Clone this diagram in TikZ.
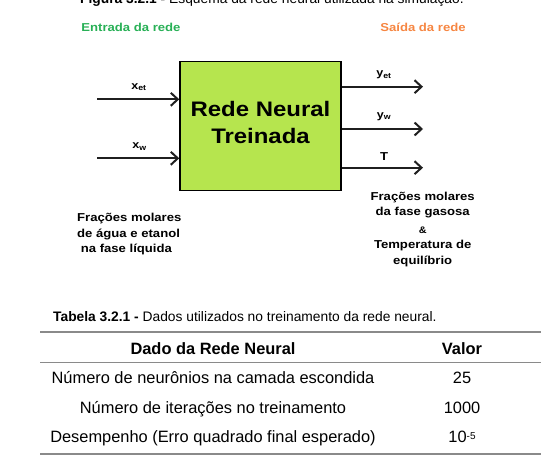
\documentclass[tikz,border=0pt]{standalone}
\usepackage{fontspec}
\setmainfont{Liberation Sans}
\newfontfamily\figfont[FakeStretch=1.14]{Liberation Sans}
\usetikzlibrary{arrows.meta}

\definecolor{verdeent}{RGB}{40,176,86}
\definecolor{laranjasai}{RGB}{246,134,66}
\definecolor{verderede}{RGB}{182,229,78}
\definecolor{cinzaregra}{RGB}{138,138,138}

\tikzset{
  seta/.style={draw=black!88, line width=2pt,
    -{Straight Barb[length=7pt,width=13pt,line width=2pt]}},
  titulo/.style={font=\figfont\fontsize{11.5}{14}\selectfont\bfseries, anchor=base},
  sinal/.style={font=\figfont\fontsize{11}{13}\selectfont\bfseries, anchor=base},
  descr/.style={font=\figfont\fontsize{11.5}{15.5}\selectfont\bfseries, inner sep=0pt, anchor=north},
  regra/.style={draw=cinzaregra, line width=1.3pt},
  celula/.style={font=\fontsize{16.4}{18}\selectfont, anchor=base},
}

\begin{document}
\begin{tikzpicture}[x=1pt, y=-1pt]
\useasboundingbox (0,0) rectangle (556,471);

% legenda da figura (cortada no topo)
\node[anchor=base west, inner sep=0pt, font=\fontsize{13.8}{16}\selectfont] (leg-fig) at (80,3.5)
  {\textbf{Figura 3.2.1 -} Esquema da rede neural utilizada na simulação.};

\node[titulo, text=verdeent] (entrada) at (131,31) {Entrada da rede};
\node[titulo, text=laranjasai] (saida) at (423,31.5) {Saída da rede};

% bloco central
\node[draw=black, line width=1.5pt, fill=verderede, minimum width=161pt, minimum height=129pt,
  inner sep=0pt] (rede) at (260.5,126.2) {};
\node[align=center, inner sep=0pt, anchor=north,
  font=\figfont\fontsize{21}{27.5}\selectfont\bfseries] (rotulo) at (rede.center |- 0,100.7)
  {Rede Neural\\Treinada};

% entradas
\coordinate (in-et) at (97,99.3);
\coordinate (in-w) at (97,158.3);
\draw[seta] (in-et) -- (in-et -| rede.west);
\draw[seta] (in-w) -- (in-w -| rede.west);
\node[sinal] (xet) at (139,89) {x\textsubscript{et}};
\node[sinal] (xw) at (139.5,148.7) {x\textsubscript{w}};

% saidas
\coordinate (out-et) at (423,86.7);
\coordinate (out-w) at (423,129);
\coordinate (out-t) at (423,167.7);
\draw[seta] (rede.east |- out-et) -- (out-et);
\draw[seta] (rede.east |- out-w) -- (out-w);
\draw[seta] (rede.east |- out-t) -- (out-t);
\node[sinal] (yet) at (384,76.7) {y\textsubscript{et}};
\node[sinal] (yw) at (384,118.3) {y\textsubscript{w}};
\node[sinal, font=\figfont\fontsize{11.5}{13}\selectfont\bfseries] (temp) at (384,160) {T};

\node[descr, align=left, anchor=north west] (desc-ent) at (77,213)
  {Frações molares\\de água e etanol\\\ na fase líquida};
\node[descr, align=center] (desc-sai) at (422.7,191.5)
  {Frações molares\\da fase gasosa\\[2pt]{\fontsize{9.5}{11}\selectfont\&}\\Temperatura de\\equilíbrio};

% tabela
\node[anchor=base west, inner sep=0pt, font=\fontsize{13.8}{16}\selectfont] (leg-tab) at (53,321.5)
  {\textbf{Tabela 3.2.1 -} Dados utilizados no treinamento da rede neural.};
\coordinate (tab-a) at (40,332);
\coordinate (tab-b) at (541,332);
\coordinate (tab-c) at (40,362.5);
\coordinate (tab-d) at (541,362.5);
\coordinate (tab-e) at (40,454);
\coordinate (tab-f) at (541,454);
\draw[regra] (tab-a) -- (tab-b);
\draw[regra] (tab-c) -- (tab-d);
\draw[regra] (tab-e) -- (tab-f);

\node[celula, font=\fontsize{16.4}{18}\selectfont\bfseries] (cab-dado) at (213,354) {Dado da Rede Neural};
\node[celula, font=\fontsize{16.4}{18}\selectfont\bfseries] (cab-valor) at (462,354) {Valor};
\node[celula] (lin1) at (213,383.5) {Número de neurônios na camada escondida};
\node[celula] (val1) at (462,383.5) {25};
\node[celula] (lin2) at (213,413) {Número de iterações no treinamento};
\node[celula] (val2) at (462,413) {1000};
\node[celula] (lin3) at (213,442) {Desempenho (Erro quadrado final esperado)};
\node[celula] (val3) at (462,442) {10{\fontsize{10}{10}\selectfont\raisebox{3pt}{-5}}};
\end{tikzpicture}
\end{document}
